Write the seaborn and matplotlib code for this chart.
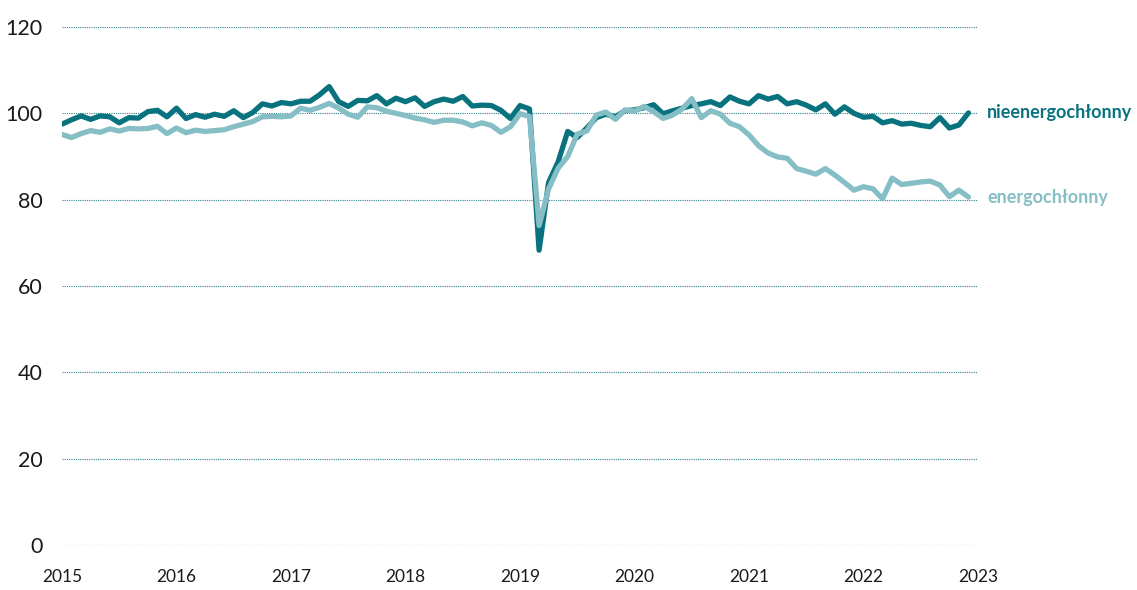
import numpy as np
import pandas as pd
import seaborn as sns
import matplotlib.pyplot as plt
import matplotlib.transforms as mtransforms

# Miesięczne indeksy produkcji, 2015-01 .. 2022-12
nieenergochlonny = [
    97.5, 98.5, 99.4, 98.6, 99.4, 99.2, 97.8, 99.0, 98.9, 100.4, 100.7, 99.2,
    101.2, 98.8, 99.7, 99.1, 99.8, 99.3, 100.6, 99.0, 100.2, 102.2, 101.7, 102.5,
    102.2, 102.8, 102.8, 104.3, 106.2, 102.7, 101.6, 103.0, 102.9, 104.1, 102.2, 103.5,
    102.7, 103.6, 101.6, 102.7, 103.3, 102.8, 103.9, 101.7, 101.9, 101.8, 100.7, 98.8,
    101.8, 101.0, 68.3, 84.0, 88.8, 95.8, 94.4, 96.6, 99.0, 99.8, 99.2, 100.6,
    100.8, 101.3, 102.0, 99.9, 100.6, 101.2, 101.8, 102.2, 102.7, 101.8, 103.8, 102.8,
    102.2, 104.1, 103.3, 103.9, 102.2, 102.7, 101.9, 100.8, 102.2, 99.8, 101.5, 100.0,
    99.1, 99.3, 97.8, 98.3, 97.5, 97.7, 97.2, 96.9, 99.0, 96.6, 97.3, 100.1,
]
energochlonny = [
    95.1, 94.4, 95.3, 96.0, 95.6, 96.4, 95.9, 96.5, 96.4, 96.5, 97.0, 95.3,
    96.6, 95.5, 96.1, 95.8, 96.0, 96.2, 96.9, 97.5, 98.1, 99.2, 99.3, 99.2,
    99.4, 101.2, 100.7, 101.4, 102.3, 101.2, 99.8, 99.1, 101.5, 101.3, 100.5, 100.0,
    99.5, 98.9, 98.5, 97.9, 98.4, 98.4, 98.0, 97.1, 97.8, 97.2, 95.6, 96.9,
    99.9, 99.3, 74.0, 82.5, 87.3, 90.0, 95.2, 95.9, 99.6, 100.3, 98.6, 100.8,
    100.5, 101.6, 100.4, 98.8, 99.6, 101.0, 103.4, 99.0, 100.6, 99.8, 97.7, 96.9,
    95.0, 92.5, 90.8, 89.9, 89.6, 87.2, 86.6, 85.9, 87.2, 85.7, 84.0, 82.2,
    83.0, 82.5, 80.2, 85.0, 83.5, 83.8, 84.1, 84.3, 83.4, 80.7, 82.2, 80.6,
]
seria_nazwy = ["nieenergochłonny", "energochłonny"]
kolory = ["#08737e", "#86bec5"]
lata = list(range(2015, 2024))
y_ticks = [0, 20, 40, 60, 80, 100, 120]

n = len(nieenergochlonny)
czas = 2015 + np.arange(n) / 12
df = pd.DataFrame({
    "czas": np.concatenate([czas, czas]),
    "wartosc": nieenergochlonny + energochlonny,
    "seria": [seria_nazwy[0]] * n + [seria_nazwy[1]] * n,
})

sns.set_theme(style="white")
plt.rcParams["font.family"] = ["Lato", "DejaVu Sans"]

fig = plt.figure(figsize=(11.37, 5.9), dpi=100)
ax = fig.add_axes([62 / 1137, 1 - 545 / 590, 916 / 1137, 518 / 590])

sns.lineplot(data=df, x="czas", y="wartosc", hue="seria", hue_order=seria_nazwy,
             palette=kolory, linewidth=3.8, legend=False, ax=ax)

ax.set_xlim(2015, 2023)
ax.set_ylim(0, 120)
ax.set_xticks(lata)
ax.set_xticklabels([str(r) for r in lata])
ax.set_yticks(y_ticks)
ax.set_xlabel("")
ax.set_ylabel("")
for s in ax.spines.values():
    s.set_visible(False)

ax.grid(axis="y", color="#2f8791", linestyle=(0, (1, 1)), linewidth=0.8)
ax.grid(axis="x", visible=False)
ax.set_axisbelow(True)
ax.tick_params(axis="y", length=0, pad=14, labelsize=15.5, colors="#1a1a1a")
ax.tick_params(axis="x", length=0, pad=17, labelsize=12.5, colors="#1a1a1a")

# etykiety serii przy końcu linii
tr = mtransforms.blended_transform_factory(ax.transAxes, ax.transData)
for nazwa, wart, kol in zip(seria_nazwy, [nieenergochlonny[-1], energochlonny[-1]], kolory):
    ax.text(1.01, wart, nazwa, transform=tr, color=kol, fontsize=13,
            fontweight="bold", va="center", ha="left")

fig.savefig("out.png", dpi=100)
